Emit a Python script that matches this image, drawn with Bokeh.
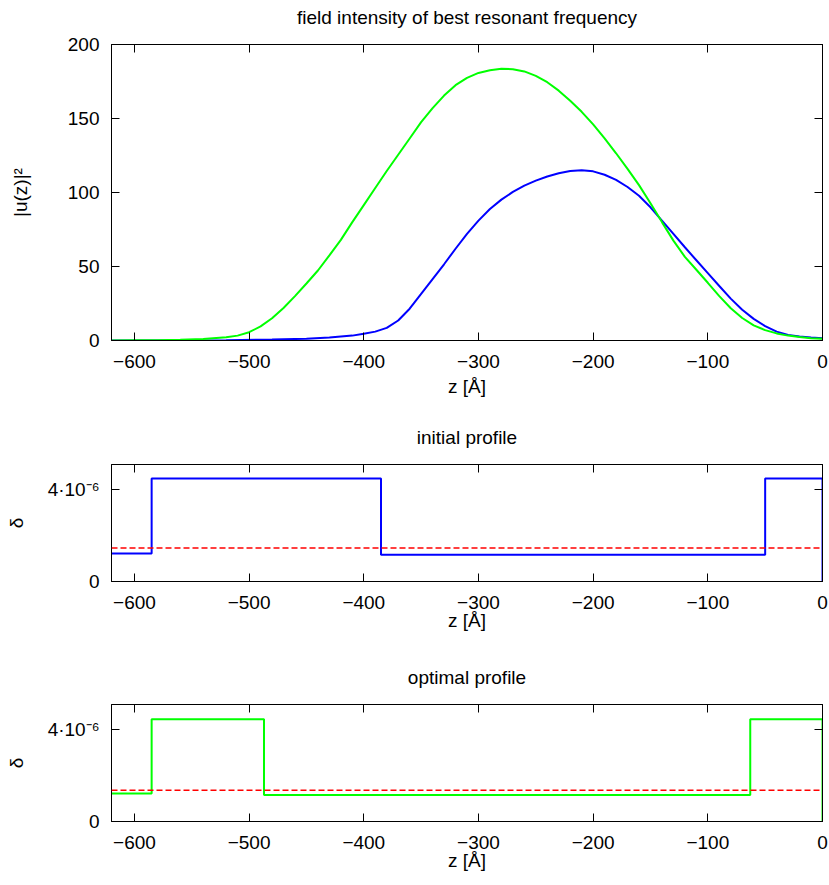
from bokeh.plotting import figure
from bokeh.layouts import column
from bokeh.models import Range1d, FixedTicker, LinearAxis, Span
from bokeh.embed import file_html
from bokeh.resources import INLINE

# ---------------- data ----------------
# field intensity |u(z)|^2, initial profile (blue)
z_initial = [-620, -600, -560, -520, -480, -450, -430, -410, -400, -390, -380,
             -370, -360, -350, -340, -330, -320, -310, -300, -290, -280, -270,
             -260, -250, -240, -230, -220, -210, -200, -190, -180, -170, -160,
             -150, -140, -130, -120, -110, -100, -90, -80, -70, -60, -50, -40,
             -30, -20, -10, 0]
u2_initial = [0.0, 0.02, 0.08, 0.25, 0.6, 1.2, 2.0, 3.3, 4.6, 6.0, 8.5,
              13.5, 21.5, 31.5, 41.5, 51.5, 62.0, 72.0, 81.0, 88.8, 95.2, 100.4,
              104.6, 108.0, 110.8, 113.0, 114.5, 115.0, 114.3, 112.0, 108.5, 103.7, 97.8,
              90.0, 81.0, 72.0, 63.0, 54.2, 45.5, 36.8, 28.3, 20.8, 14.6, 9.7, 6.0,
              3.8, 2.7, 2.0, 1.6]

# field intensity |u(z)|^2, optimal profile (green)
z_optimal = [-620, -600, -580, -560, -540, -520, -510, -500, -490, -480, -470,
             -460, -450, -440, -430, -420, -410, -400, -390, -380, -370, -360,
             -350, -340, -330, -320, -310, -300, -290, -280, -270, -260, -250,
             -240, -230, -220, -210, -200, -190, -180, -170, -160, -150, -140,
             -130, -120, -110, -100, -90, -80, -70, -60, -50, -40, -30, -20, -10, 0]
u2_optimal = [0.0, 0.1, 0.25, 0.5, 1.0, 2.2, 3.3, 5.6, 9.5, 15.0, 22.0,
              30.0, 38.5, 47.3, 57.5, 68.0, 80.0, 91.5, 103.0, 114.5, 125.5, 136.5,
              147.5, 157.0, 165.5, 172.5, 177.5, 180.8, 182.6, 183.6, 183.3, 181.8, 178.8,
              174.5, 168.8, 162.0, 154.5, 146.0, 136.5, 126.5, 116.0, 105.0, 92.7, 80.0,
              67.5, 56.5, 47.8, 39.0, 30.0, 21.8, 15.2, 10.2, 7.0, 4.8, 3.3, 2.4, 1.6, 1.1]

# layer profiles delta(z): boundaries and values (step "after")
initial_bounds = [-620, -585, -385, -50, 0]
initial_delta = [1.22e-6, 4.47e-6, 1.165e-6, 4.47e-6, 0.0]
optimal_bounds = [-620, -585, -487, -63, 0]
optimal_delta = [1.22e-6, 4.44e-6, 1.15e-6, 4.44e-6, 0.0]
initial_reference = 1.45e-6
optimal_reference = 1.36e-6

# axes
z_range = [-620, 0]
x_ticks = [-600, -500, -400, -300, -200, -100, 0]
x_tick_labels = ["\u2212600", "\u2212500", "\u2212400", "\u2212300", "\u2212200", "\u2212100", "0"]
u2_range = [0, 200]
u2_ticks = [0, 50, 100, 150, 200]
u2_tick_labels = ["0", "50", "100", "150", "200"]
delta_range = [0, 5.08e-6]
delta_ticks = [0, 4e-6]
delta_tick_labels = ["0", "4\u00b710\u207b\u2076"]

titles = ["field intensity of best resonant frequency", "initial profile", "optimal profile"]
x_label = "z [\u00c5]"
y_labels = ["|u(z)|\u00b2", "\u03b4", "\u03b4"]

FONT = "Liberation Sans"
FS = "19px"
BLUE = "#0000ff"
GREEN = "#00ff00"
RED = "#ff0000"


def make_fig(height, top, bottom, yr, yticks, ylabels, title, ylabel, ylabel_standoff,
             xlabel_standoff):
    p = figure(width=829, height=height, output_backend="svg", toolbar_location=None,
               x_range=Range1d(*z_range), y_range=Range1d(*yr),
               min_border_left=111, min_border_right=7,
               min_border_top=top, min_border_bottom=bottom)
    p.grid.visible = False
    p.outline_line_color = "black"
    p.outline_line_width = 1
    p.outline_line_alpha = 1
    p.background_fill_color = "white"
    p.border_fill_color = "white"

    p.xaxis.ticker = FixedTicker(ticks=x_ticks)
    p.xaxis.major_label_overrides = dict(zip(x_ticks, x_tick_labels))
    p.xaxis.axis_label = x_label
    p.yaxis.ticker = FixedTicker(ticks=yticks)
    p.yaxis.major_label_overrides = dict(zip(yticks, ylabels))
    p.yaxis.axis_label = ylabel
    for ax in (p.xaxis[0], p.yaxis[0]):
        ax.axis_line_color = "black"
        ax.major_tick_in = 8
        ax.major_tick_out = 0
        ax.major_tick_line_color = "black"
        ax.minor_tick_line_color = None
        ax.major_label_text_font = FONT
        ax.major_label_text_font_size = FS
        ax.major_label_text_color = "black"
        ax.axis_label_text_font = FONT
        ax.axis_label_text_font_size = FS
        ax.axis_label_text_font_style = "normal"
        ax.axis_label_text_color = "black"
    p.xaxis.major_label_standoff = 14
    p.xaxis.axis_label_standoff = xlabel_standoff
    p.yaxis.major_label_standoff = 12
    p.yaxis.axis_label_standoff = ylabel_standoff

    # mirrored tick marks on top and right; the top one carries the panel title
    top_ax = LinearAxis(ticker=FixedTicker(ticks=x_ticks), major_tick_in=8, major_tick_out=0,
                        major_tick_line_color="black", minor_tick_line_color=None,
                        axis_line_color="black", major_label_text_font_size="0px",
                        major_label_text_color=None, major_label_standoff=0,
                        axis_label=title, axis_label_standoff=17,
                        axis_label_text_font=FONT, axis_label_text_font_size=FS,
                        axis_label_text_font_style="normal", axis_label_text_color="black")
    p.add_layout(top_ax, "above")
    right_ax = LinearAxis(ticker=FixedTicker(ticks=yticks), major_tick_in=8, major_tick_out=0,
                          major_tick_line_color="black", minor_tick_line_color=None,
                          axis_line_color="black", major_label_text_font_size="0px",
                          major_label_text_color=None, major_label_standoff=0)
    p.add_layout(right_ax, "right")
    return p


p1 = make_fig(410, 44, 70, u2_range, u2_ticks, u2_tick_labels, titles[0], y_labels[0], 34, 5)
p1.line(z_initial, u2_initial, line_color=BLUE, line_width=2)
p1.line(z_optimal, u2_optimal, line_color=GREEN, line_width=2)

p2 = make_fig(240, 54, 69, delta_range, delta_ticks, delta_tick_labels, titles[1], y_labels[1], 18, -2)
p2.step(initial_bounds, initial_delta, mode="after", line_color=BLUE, line_width=2)
p2.add_layout(Span(location=initial_reference, dimension="width", line_color=RED,
                   line_width=1.5, line_dash="6 3"))

p3 = make_fig(235, 54, 64, delta_range, delta_ticks, delta_tick_labels, titles[2], y_labels[2], 18, -2)
p3.step(optimal_bounds, optimal_delta, mode="after", line_color=GREEN, line_width=2)
p3.add_layout(Span(location=optimal_reference, dimension="width", line_color=RED,
                   line_width=1.5, line_dash="6 3"))

layout = column(p1, p2, p3, spacing=0)
open("out.html", "w").write(file_html(layout, INLINE))
